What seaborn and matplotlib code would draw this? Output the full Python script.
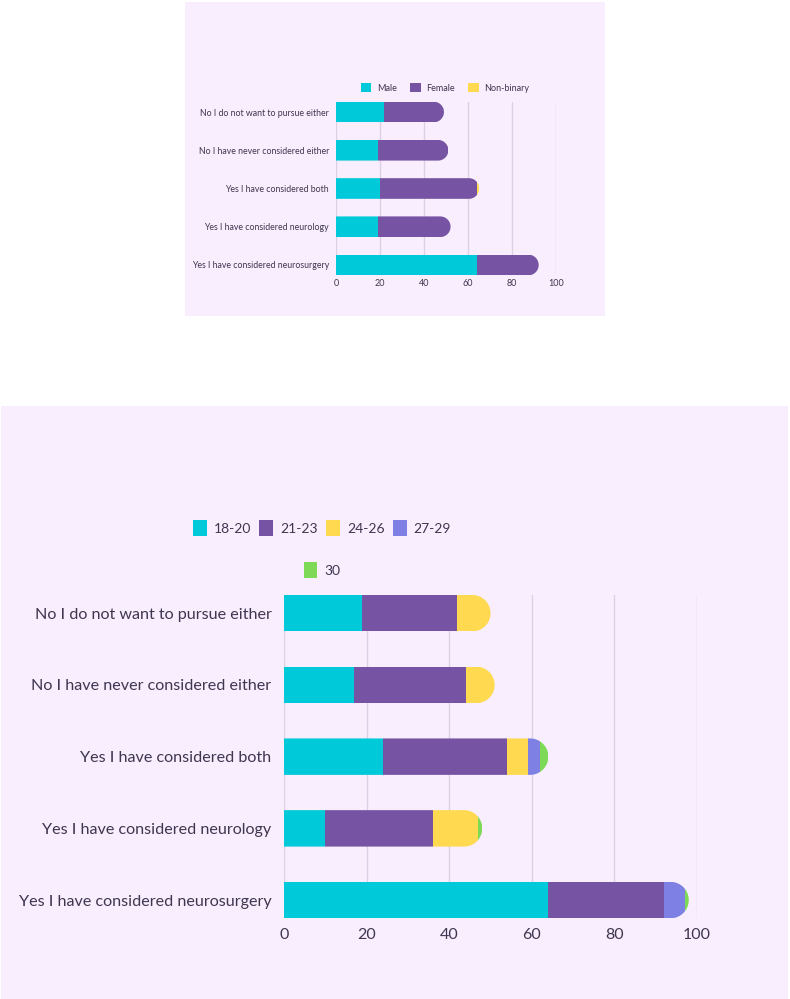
import numpy as np
import matplotlib
matplotlib.use("Agg")
import matplotlib.pyplot as plt
import seaborn as sns
from matplotlib.patches import Rectangle, Patch, PathPatch
from matplotlib.path import Path

sns.set_theme(style="white")
plt.rcParams['font.family'] = ['Lato', 'DejaVu Sans']

# ---------------- data ----------------
categories = ["No I do not want to pursue either",
              "No I have never considered either",
              "Yes I have considered both",
              "Yes I have considered neurology",
              "Yes I have considered neurosurgery"]

gender_labels = ["Male", "Female", "Non-binary"]
male = [22, 19, 20, 19, 64]
female = [27, 32, 44, 33, 28]
non_binary = [0, 0, 1, 0, 0]

age_labels = ["18-20", "21-23", "24-26", "27-29", "30"]
age_18_20 = [19, 17, 24, 10, 64]
age_21_23 = [23, 27, 30, 26, 28]
age_24_26 = [8, 7, 5, 11, 0]
age_27_29 = [0, 0, 3, 0, 5]
age_30 = [0, 0, 2, 1, 1]

x_ticks = [0, 20, 40, 60, 80, 100]

# ---------------- style ----------------
BG = "#F8EEFD"
TXT = "#3F3650"
GRID = "#DDD0E6"
C_CYAN = "#00C9DA"
C_PURPLE = "#7653A3"
C_YELLOW = "#FFD94F"
C_PERI = "#7E80E4"
C_GREEN = "#7ED957"

W, H = 790, 999
fig = plt.figure(figsize=(W / 100, H / 100), dpi=100)
fig.patch.set_facecolor("white")

def fx(px):
    return px / W

def fy(py):
    return 1 - py / H

# panel backgrounds
fig.patches.append(Rectangle((fx(185), fy(316)), fx(420), 314 / H,
                             transform=fig.transFigure, facecolor=BG,
                             edgecolor="none", zorder=-10))
fig.patches.append(Rectangle((fx(1), 0), fx(787), 593 / H,
                             transform=fig.transFigure, facecolor=BG,
                             edgecolor="none", zorder=-10))


def stacked(ax, series, colors, half, label_size, tick_size, ypad, xpad,
            ax_px_w, ax_px_h):
    n = len(categories)
    vals = np.array(series, dtype=float)
    lefts = np.vstack([np.zeros(n), np.cumsum(vals, axis=0)[:-1]])
    totals = vals.sum(axis=0)
    row_patches = {i: [] for i in range(n)}
    for k in range(len(series)):
        before = len(ax.patches)
        sns.barplot(x=list(vals[k]), y=categories, color=colors[k], orient="h",
                    width=2 * half, saturation=1, linewidth=0, ax=ax, zorder=3)
        for p in ax.patches[before:]:
            yc = p.get_y() + p.get_height() / 2
            i = int(round(yc))
            p.set_x(lefts[k][i])  # stack segment after the previous ones
            row_patches[i].append(p)
    ax.set_xlim(0, 100)
    ax.set_ylim(n - 1 + half, -half)
    # rounded right ends via clip paths
    px_per_x = ax_px_w / 100.0
    px_per_y = ax_px_h / (n - 1 + 2 * half)
    r_px = half * px_per_y
    rx = r_px / px_per_x
    for i in range(n):
        T = totals[i]
        t = np.linspace(-np.pi / 2, np.pi / 2, 60)
        arc_x = (T - rx) + rx * np.cos(t)
        arc_y = i + half * np.sin(t)
        verts = [(-2, i - half)] + list(zip(arc_x, arc_y)) + [(-2, i + half)]
        verts.append(verts[0])
        codes = [Path.MOVETO] + [Path.LINETO] * (len(verts) - 2) + [Path.CLOSEPOLY]
        clip = PathPatch(Path(verts, codes), transform=ax.transData,
                         facecolor="none", edgecolor="none")
        for p in row_patches[i]:
            p.set_clip_path(clip)
    ax.set_xticks(x_ticks)
    ax.set_xticklabels([str(v) for v in x_ticks])
    ax.set_xlabel("")
    ax.set_ylabel("")
    ax.set_facecolor("none")
    for s in ax.spines.values():
        s.set_visible(False)
    ax.grid(axis="x", color=GRID, linewidth=1, zorder=0)
    ax.grid(axis="y", visible=False)
    ax.set_axisbelow(True)
    ax.tick_params(axis="x", length=0, pad=xpad, labelsize=tick_size, colors=TXT)
    ax.tick_params(axis="y", length=0, pad=ypad, labelsize=label_size, colors=TXT)


# ---------------- top chart (gender) ----------------
t_left, t_right, t_top, t_bot = 336, 556.3, 101.7, 275.3
ax1 = fig.add_axes([fx(t_left), fy(t_bot), fx(t_right - t_left), (t_bot - t_top) / H])
stacked(ax1, [male, female, non_binary], [C_CYAN, C_PURPLE, C_YELLOW],
        0.27, 6.3, 6.5, 5, 3, t_right - t_left, t_bot - t_top)

h1 = [Patch(facecolor=c, edgecolor="none", label=l)
      for c, l in zip([C_CYAN, C_PURPLE, C_YELLOW], gender_labels)]
fig.legend(handles=h1, loc="center", bbox_to_anchor=(fx(445), fy(88)), ncol=3,
           frameon=False, fontsize=6.5, handlelength=1.15, handleheight=1.15,
           handletextpad=0.6, columnspacing=1.5, labelcolor=TXT)

# ---------------- bottom chart (age) ----------------
b_left, b_right, b_top, b_bot = 284, 697, 595, 918.3
ax2 = fig.add_axes([fx(b_left), fy(b_bot), fx(b_right - b_left), (b_bot - b_top) / H])
stacked(ax2, [age_18_20, age_21_23, age_24_26, age_27_29, age_30],
        [C_CYAN, C_PURPLE, C_YELLOW, C_PERI, C_GREEN],
        0.254, 11.6, 11.5, 9, 7, b_right - b_left, b_bot - b_top)

age_colors = [C_CYAN, C_PURPLE, C_YELLOW, C_PERI, C_GREEN]
h2 = [Patch(facecolor=c, edgecolor="none", label=l)
      for c, l in zip(age_colors, age_labels)]
fig.legend(handles=h2[:4], loc="center", bbox_to_anchor=(fx(322), fy(528)), ncol=4,
           frameon=False, fontsize=10, handlelength=1.0, handleheight=1.4,
           handletextpad=0.5, columnspacing=0.6, labelcolor=TXT)
fig.legend(handles=h2[4:], loc="center", bbox_to_anchor=(fx(322), fy(570)), ncol=1,
           frameon=False, fontsize=10, handlelength=1.0, handleheight=1.4,
           handletextpad=0.5, labelcolor=TXT)

fig.savefig("out.png", dpi=100, facecolor="white")
